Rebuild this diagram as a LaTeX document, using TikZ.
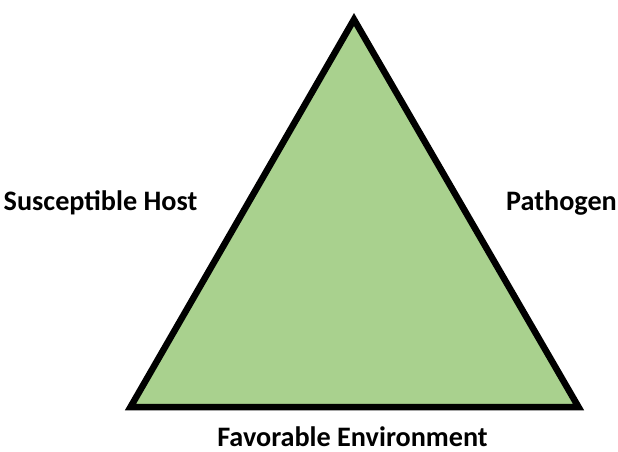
\documentclass[tikz,border=0pt]{standalone}
\usepackage{fontspec}
\setmainfont{Carlito}
\definecolor{leafgreen}{HTML}{A9D18E}
\begin{document}
\begin{tikzpicture}[x=1pt,y=-1pt,
  lbl/.style={font=\fontsize{28.2}{31}\selectfont\bfseries, inner sep=0pt, anchor=base}]
\useasboundingbox[fill=white] (0,0) rectangle (618,451);
\coordinate (apex) at (354,19.5);
\coordinate (bl) at (130.5,407);
\coordinate (br) at (578.5,407);
\filldraw[fill=leafgreen, draw=black, line width=6.5pt, line join=miter] (apex) -- (br) -- (bl) -- cycle;
\node[lbl] (host) at (100.5,210.5) {Susceptible Host};
\node[lbl] (path) at (561.5,210.5) {Pathogen};
\node[lbl] (env) at (352.5,446) {Favorable Environment};
\end{tikzpicture}
\end{document}
